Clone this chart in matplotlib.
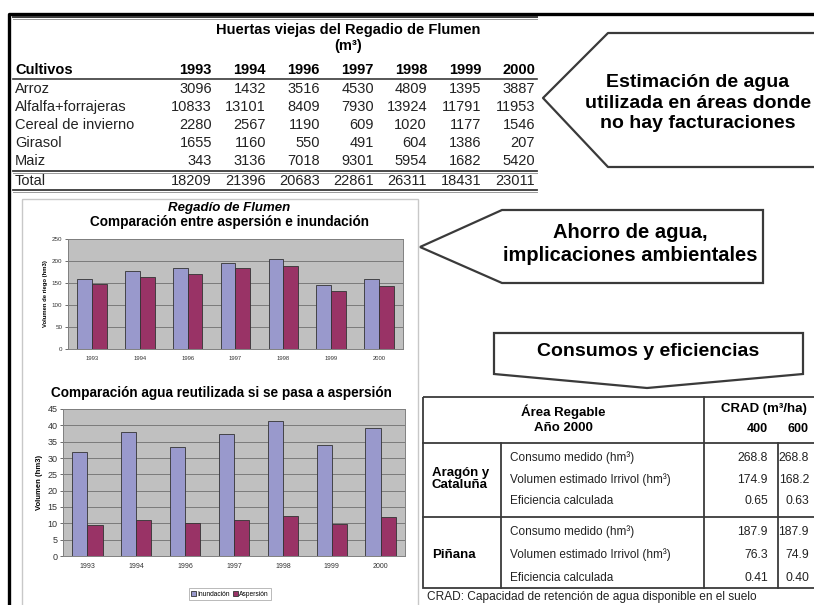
import matplotlib
matplotlib.use("Agg")
import matplotlib.pyplot as plt
import numpy as np
from matplotlib.patches import Rectangle, Polygon

plt.rcParams['font.family'] = ['Liberation Sans', 'DejaVu Sans']

W, H = 814, 605

# ---- data ----
years = ["1993", "1994", "1996", "1997", "1998", "1999", "2000"]
crops = ["Arroz", "Alfalfa+forrajeras", "Cereal de invierno", "Girasol", "Maiz"]
arroz = [3096, 1432, 3516, 4530, 4809, 1395, 3887]
alfalfa = [10833, 13101, 8409, 7930, 13924, 11791, 11953]
cereal = [2280, 2567, 1190, 609, 1020, 1177, 1546]
girasol = [1655, 1160, 550, 491, 604, 1386, 207]
maiz = [343, 3136, 7018, 9301, 5954, 1682, 5420]
totals = [18209, 21396, 20683, 22861, 26311, 18431, 23011]

riego_inundacion = [160, 177, 183, 196, 204, 145, 160]
riego_aspersion = [148, 164, 170, 183, 189, 132, 144]

reut_inundacion = [31.7, 37.9, 33.4, 37.3, 41.2, 33.9, 39.2]
reut_aspersion = [9.5, 11.0, 10.1, 11.0, 12.2, 9.9, 11.8]

zonas = ["Aragón y\nCataluña", "Piñana"]
indicadores = ["Consumo medido (hm³)", "Volumen estimado Irrivol (hm³)", "Eficiencia calculada"]
crad_cols = ["400", "600"]
crad_400 = [268.8, 174.9, 0.65, 187.9, 76.3, 0.41]
crad_600 = [268.8, 168.2, 0.63, 187.9, 74.9, 0.40]

BLUE = "#9999cc"
RED = "#993366"
LINE = "#3a3a3a"
TXT = "#222222"

fig = plt.figure(figsize=(W / 100, H / 100), dpi=100)
ax = fig.add_axes([0, 0, 1, 1])
ax.set_xlim(0, W)
ax.set_ylim(H, 0)
ax.axis("off")

# outer black border (left + top)
ax.plot([8.5, 8.5, W + 5], [H + 5, 14, 14], color="black", lw=2.4, solid_capstyle="butt")

# ---- top table ----
TFS = 10.5
ax.plot([13, 537], [17, 17], color=LINE, lw=1.4)
ax.plot([13, 537], [19, 19], color="#9a9a9a", lw=0.7)
ax.text(348, 30, "Huertas viejas del Regadio de Flumen", ha="center", va="center",
        fontsize=TFS, fontweight="bold")
ax.text(348, 46, "(m³)", ha="center", va="center", fontsize=TFS, fontweight="bold")

col_right = [212, 266, 320, 374, 427, 481, 535]
ax.text(15, 70, "Cultivos", ha="left", va="center", fontsize=TFS, fontweight="bold")
for xr, yr in zip(col_right, years):
    ax.text(xr, 70, yr, ha="right", va="center", fontsize=TFS, fontweight="bold")
ax.plot([13, 537], [79, 79], color=LINE, lw=1.2)

rows = [arroz, alfalfa, cereal, girasol, maiz]
row_y = [89, 107, 125, 143, 161]
for name, vals, yy in zip(crops, rows, row_y):
    ax.text(15, yy, name, ha="left", va="center", fontsize=TFS, color=TXT)
    for xr, v in zip(col_right, vals):
        ax.text(xr, yy, str(v), ha="right", va="center", fontsize=TFS, color=TXT)
for yy in (171, 190):
    ax.plot([13, 537], [yy, yy], color=LINE, lw=1.3)
    ax.plot([13, 537], [yy + 2, yy + 2], color="#9a9a9a", lw=0.7)
ax.text(15, 181, "Total", ha="left", va="center", fontsize=TFS, color=TXT)
for xr, v in zip(col_right, totals):
    ax.text(xr, 181, str(v), ha="right", va="center", fontsize=TFS, color=TXT)

# ---- callouts ----
ax.plot([W + 5, 608, 543, 608, W + 5], [33, 33, 98, 167, 167], color=LINE, lw=1.6)
ax.text(698, 103, "Estimación de agua\nutilizada en áreas donde\nno hay facturaciones",
        ha="center", va="center", fontsize=14, fontweight="bold", linespacing=1.3)

ax.add_patch(Polygon([(763, 210), (502, 210), (420, 247), (502, 283), (763, 283)],
                     closed=True, fill=False, ec=LINE, lw=1.6))
ax.text(630, 244, "Ahorro de agua,\nimplicaciones ambientales", ha="center", va="center",
        fontsize=14.5, fontweight="bold", linespacing=1.25)

ax.add_patch(Polygon([(494, 333), (803, 333), (803, 374), (647, 388), (494, 374)],
                     closed=True, fill=False, ec=LINE, lw=1.6))
ax.text(648, 352, "Consumos y eficiencias", ha="center", va="center",
        fontsize=14, fontweight="bold")

# ---- chart panel frame ----
ax.add_patch(Rectangle((22, 199), 396, 420, fill=False, ec="#c8c8c8", lw=1))

ax.text(229, 208, "Regadío de Flumen", ha="center", va="center", fontsize=9.5,
        fontweight="bold", style="italic")
ax.text(229, 222, "Comparación entre aspersión e inundación", ha="center", va="center",
        fontsize=9.8, fontweight="bold")
ax.text(221, 393, "Comparación agua reutilizada si se pasa a aspersión", ha="center",
        va="center", fontsize=9.8, fontweight="bold")


def px_axes(x0, y0, x1, y1):
    return fig.add_axes([x0 / W, 1 - y1 / H, (x1 - x0) / W, (y1 - y0) / H])


def bar_chart(a, inund, asper, ymax, step, ylab, ytick_fs, xtick_fs, ylab_fs):
    x = np.arange(len(years))
    bw = 0.31
    a.set_facecolor("#c0c0c0")
    a.bar(x - bw / 2, inund, bw, color=BLUE, edgecolor="#333333", lw=0.6, zorder=3,
          label="Inundación")
    a.bar(x + bw / 2, asper, bw, color=RED, edgecolor="#333333", lw=0.6, zorder=3,
          label="Aspersión")
    a.set_xlim(-0.5, len(years) - 0.5)
    a.set_ylim(0, ymax)
    a.set_yticks(np.arange(0, ymax + 0.1, step))
    a.set_xticks(x)
    a.set_xticklabels(years)
    a.yaxis.grid(True, color="#7a7a7a", lw=0.7)
    a.set_axisbelow(True)
    a.tick_params(axis="y", labelsize=ytick_fs, length=2, width=0.5, pad=2, colors="#333333")
    a.tick_params(axis="x", labelsize=xtick_fs, length=0, pad=5, colors="#333333")
    for s in a.spines.values():
        s.set_color("#808080")
        s.set_linewidth(0.7)
    a.set_ylabel(ylab, fontsize=ylab_fs, fontweight="bold", labelpad=3)


ax1 = px_axes(68, 239, 403, 349)
bar_chart(ax1, riego_inundacion, riego_aspersion, 250, 50,
          "Volumen de riego (hm3)", 4.5, 4.2, 4.2)

ax2 = px_axes(63, 409, 405, 556)
bar_chart(ax2, reut_inundacion, reut_aspersion, 45, 5,
          "Volumen (hm3)", 6.5, 5, 5.5)
leg = ax2.legend(loc="center", bbox_to_anchor=(230 / W, 1 - 594 / H),
                 bbox_transform=fig.transFigure, ncol=2, fontsize=4.8, handlelength=0.7,
                 handleheight=0.7, handletextpad=0.25, columnspacing=0.5, borderpad=0.35,
                 fancybox=False, edgecolor="#9a9a9a")
leg.get_frame().set_linewidth(0.6)

# ---- bottom right table ----
ax.add_patch(Rectangle((423, 397), 420, 191, fill=False, ec=LINE, lw=1.3))
ax.plot([423, W + 5], [443, 443], color=LINE, lw=1.3)
ax.plot([423, W + 5], [517, 517], color=LINE, lw=1.3)
ax.plot([501, 501], [443, 588], color=LINE, lw=1.3)
ax.plot([704, 704], [397, 588], color=LINE, lw=1.3)
ax.plot([778, 778], [443, 588], color=LINE, lw=1.3)

ax.text(563, 412, "Área Regable", ha="center", va="center", fontsize=9.5, fontweight="bold")
ax.text(563, 428, "Año 2000", ha="center", va="center", fontsize=9.5, fontweight="bold")
ax.text(764, 409, "CRAD (m³/ha)", ha="center", va="center", fontsize=9.5, fontweight="bold")
ax.text(768, 429, crad_cols[0], ha="right", va="center", fontsize=9, fontweight="bold")
ax.text(809, 429, crad_cols[1], ha="right", va="center", fontsize=9, fontweight="bold")

ax.text(432, 479, zonas[0], ha="left", va="center", fontsize=9.5, fontweight="bold",
        linespacing=1.1)
ax.text(432, 555, zonas[1], ha="left", va="center", fontsize=9.5, fontweight="bold")

tab_y = [458, 480, 501, 532, 555, 578]
for i, yy in enumerate(tab_y):
    lab = indicadores[i % 3]
    ax.text(510, yy, lab, ha="left", va="center", fontsize=8.5, color=TXT)
    fmt = "{:.2f}" if i % 3 == 2 else "{:.1f}"
    ax.text(768, yy, fmt.format(crad_400[i]), ha="right", va="center", fontsize=8.8,
            color=TXT)
    ax.text(809, yy, fmt.format(crad_600[i]), ha="right", va="center", fontsize=8.8,
            color=TXT)

ax.text(427, 597, "CRAD: Capacidad de retención de agua disponible en el suelo",
        ha="left", va="center", fontsize=8.6, color=TXT)

fig.savefig("out.png", dpi=100)
